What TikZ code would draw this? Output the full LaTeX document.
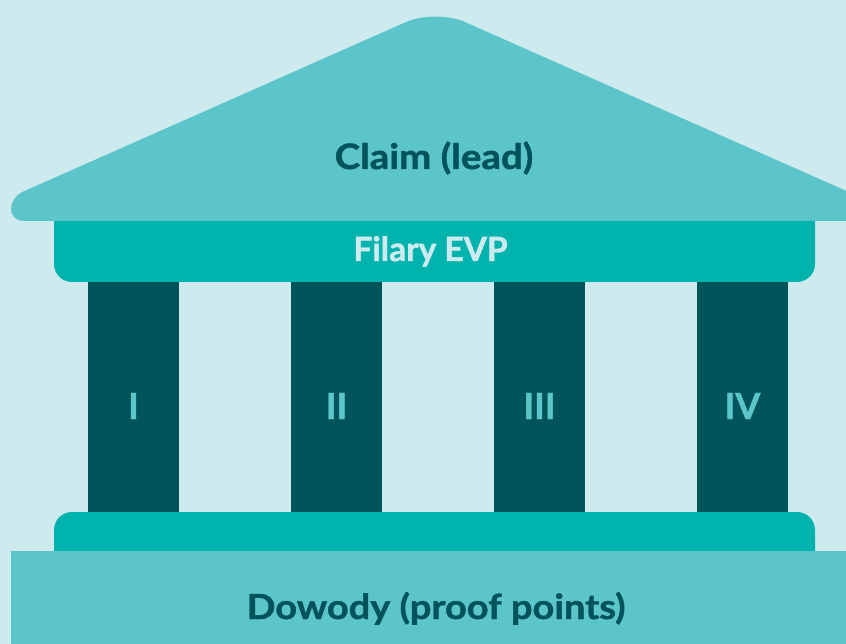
\documentclass[tikz,border=0pt]{standalone}
\usepackage{fontspec}
\setmainfont{Lato}[BoldFeatures={FakeBold=1.2}]
\newfontfamily\widefont{Lato}[BoldFeatures={FakeBold=1.2,FakeStretch=1.1}]
\definecolor{bgc}{HTML}{CDEAEF}
\definecolor{roofc}{HTML}{5CC5CA}
\definecolor{bandc}{HTML}{00B4AD}
\definecolor{colc}{HTML}{00555A}
\definecolor{darktxt}{HTML}{00535A}
\definecolor{lighttxt}{HTML}{CDEAEF}
\tikzset{
  pillar/.style={fill=colc},
  bandbox/.style={fill=bandc, rounded corners=18pt},
  bigtxt/.style={inner sep=0pt, anchor=base},
  numtxt/.style={inner sep=0pt, anchor=base, text=roofc, font=\bfseries\fontsize{36}{42}\selectfont},
}
\begin{document}
\begin{tikzpicture}[x=1pt,y=-1pt]
\useasboundingbox (0,0) rectangle (846,644);
\clip (0,0) rectangle (846,644);
\fill[bgc] (0,0) rectangle (846,644);
% columns
\foreach \cx in {88,291,494,697}{
  \fill[pillar] (\cx,270) rectangle ++(91,252);
}
% upper band (EVP)
\fill[bandbox] (54,200) rectangle (815,282);
% lower band
\fill[bandbox] (54,512) rectangle (815,590);
% roof
\fill[roofc] (435.5,221) [rounded corners=12pt] -- (11,221) -- (11,197) [rounded corners=32pt] -- (435.5,9) [rounded corners=12pt] -- (860,197) -- (860,221) [sharp corners] -- cycle;
% base
\fill[roofc] (11,551) rectangle (860,650);
% texts
\node[bigtxt, text=darktxt, font=\widefont\bfseries\fontsize{35}{42}\selectfont] (claim) at (434,169) {Claim (lead)};
\node[bigtxt, text=lighttxt, font=\bfseries\fontsize{33.5}{40}\selectfont] (evp) at (430.5,261) {Filary EVP};
\node[numtxt] (n1) at (133.5,419) {I};
\node[numtxt] (n2) at (336.5,419) {II};
\node[numtxt] (n3) at (539.5,419) {III};
\node[numtxt] (n4) at (742.5,419) {IV};
\node[bigtxt, text=darktxt, font=\widefont\bfseries\fontsize{34.5}{42}\selectfont] (proof) at (436,619) {Dowody (proof points)};
\end{tikzpicture}
\end{document}
